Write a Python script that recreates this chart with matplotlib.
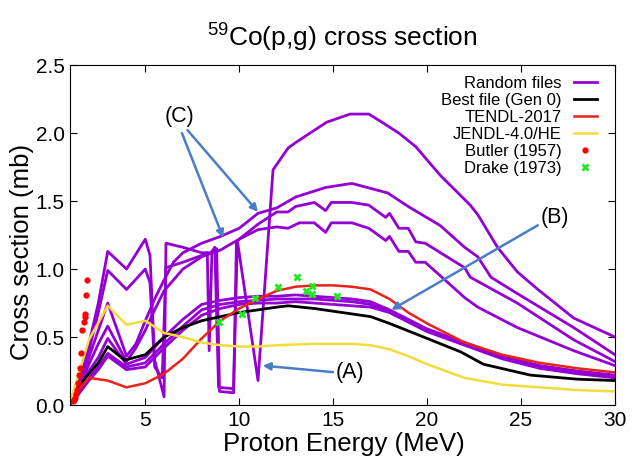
# 59Co(p,g) cross section - random files vs evaluations vs data
import matplotlib
matplotlib.use('Agg')
import matplotlib.pyplot as plt

plt.rcParams['font.family'] = ['Liberation Sans', 'DejaVu Sans']
plt.rcParams['mathtext.default'] = 'regular'

# random files
r1_e = [1, 1.5, 2, 2.5, 3, 4, 5, 5.25, 5.5, 6.0, 6.1, 7, 8, 8.5, 8.7, 8.9, 9.7, 9.9,
        11.0, 11.8, 12.6, 13, 14.65, 15.9, 16.9, 17.6, 18.5, 19.4, 20.7, 22.3, 22.7,
        23.75, 24.8, 25.9, 27.8, 30]
r1_xs = [0.01, 0.2, 0.45, 0.75, 1.13, 1.0, 1.22, 1.1, 0.33, 0.06, 1.19, 1.16, 1.12,
         1.12, 1.16, 0.13, 0.12, 1.21, 0.18, 1.73, 1.89, 1.93, 2.08, 2.14, 2.14, 2.08,
         2.0, 1.90, 1.69, 1.47, 1.40, 1.16, 0.98, 0.85, 0.64, 0.50]

r2_e = [1, 1.5, 2, 2.5, 3, 4, 5, 5.25, 5.5, 5.9, 6.1, 7, 8, 8.3, 8.4, 8.55, 8.8, 8.95,
        9.7, 9.85, 10, 11, 12, 12.6, 13, 14, 14.6, 14.9, 16, 16.9, 17.8, 18, 18.5, 19,
        19.4, 19.9, 22, 22.3, 24.8, 27.8, 30]
r2_xs = [0.01, 0.18, 0.4, 0.68, 0.99, 0.85, 1.0, 0.9, 0.28, 0.2, 1.01, 1.05, 1.1, 1.12,
         0.40, 1.13, 1.15, 0.10, 0.09, 1.19, 1.22, 1.33, 1.42, 1.42, 1.46, 1.49, 1.43,
         1.49, 1.49, 1.47, 1.38, 1.41, 1.30, 1.30, 1.20, 1.19, 1.01, 0.94, 0.75, 0.48, 0.32]

r3_e = [1, 1.5, 2, 2.5, 3, 4, 4.5, 5, 5.5, 6, 6.5, 7, 8, 9, 10, 11, 12, 13, 14.6, 16,
        17.9, 19, 20.7, 22, 22.7, 23.4, 24.8, 27.8, 30]
r3_xs = [0.01, 0.15, 0.35, 0.55, 0.75, 0.36, 0.45, 0.62, 0.78, 0.92, 1.05, 1.12, 1.19,
         1.24, 1.30, 1.41, 1.45, 1.53, 1.60, 1.63, 1.56, 1.46, 1.32, 1.16, 1.09, 0.94,
         0.82, 0.57, 0.37]

r4_e = [1, 1.5, 2, 2.5, 3, 4, 4.5, 5, 5.5, 6, 7, 8, 9, 10, 11, 12, 12.6, 13.2, 14, 14.6,
        14.9, 16, 16.9, 17.8, 18, 18.5, 19, 19.4, 19.9, 22, 22.7, 24.8, 27.8, 30]
r4_xs = [0.01, 0.13, 0.3, 0.45, 0.58, 0.32, 0.42, 0.55, 0.7, 0.84, 1.0, 1.09, 1.14, 1.22,
         1.29, 1.31, 1.30, 1.34, 1.34, 1.27, 1.34, 1.34, 1.30, 1.21, 1.24, 1.13, 1.13,
         1.05, 1.05, 0.79, 0.72, 0.57, 0.40, 0.29]

low_e = [1, 1.5, 2, 2.5, 3, 4, 5, 6, 7, 8, 9, 10, 11, 12, 13, 14, 15, 16, 17, 18, 19,
         20, 22, 24, 26, 28, 30]
r5_xs = [0.01, 0.12, 0.25, 0.35, 0.49, 0.30, 0.35, 0.50, 0.63, 0.74, 0.77, 0.79, 0.80,
         0.80, 0.81, 0.80, 0.79, 0.78, 0.76, 0.70, 0.63, 0.56, 0.46, 0.36, 0.29, 0.25, 0.22]
r6_xs = [0.01, 0.10, 0.20, 0.28, 0.38, 0.28, 0.31, 0.45, 0.58, 0.70, 0.74, 0.76, 0.77,
         0.78, 0.78, 0.78, 0.77, 0.76, 0.74, 0.69, 0.62, 0.55, 0.45, 0.35, 0.28, 0.24, 0.21]
r7_xs = [0.01, 0.09, 0.18, 0.26, 0.36, 0.26, 0.28, 0.42, 0.55, 0.66, 0.71, 0.74, 0.75,
         0.75, 0.76, 0.75, 0.74, 0.73, 0.72, 0.68, 0.61, 0.54, 0.44, 0.34, 0.27, 0.23, 0.20]

# best file, TENDL, JENDL
best_e = [1, 1.8, 2.5, 3, 3.9, 5, 6, 7, 8, 9, 10, 11, 12, 12.6, 14, 15, 17, 18, 20,
          21.8, 23, 25.5, 28, 30]
best_xs = [0.02, 0.2, 0.31, 0.43, 0.33, 0.37, 0.50, 0.57, 0.62, 0.65, 0.68, 0.70, 0.72,
           0.73, 0.71, 0.69, 0.65, 0.60, 0.49, 0.39, 0.30, 0.22, 0.19, 0.18]

tendl_e = [1, 1.5, 2, 3, 4, 5, 6, 7, 8, 9, 10, 11, 12, 13, 14, 15, 16, 17, 18, 19, 20,
           22, 24, 26, 28, 30]
tendl_xs = [0.03, 0.12, 0.20, 0.18, 0.13, 0.16, 0.23, 0.34, 0.49, 0.62, 0.71, 0.78, 0.84,
            0.87, 0.88, 0.88, 0.87, 0.85, 0.78, 0.68, 0.60, 0.46, 0.37, 0.31, 0.27, 0.24]

jendl_e = [1, 2, 3, 4, 5, 6, 7, 8, 9, 10, 11, 12, 14, 15, 16, 17, 18, 19, 20, 22, 24,
           26, 28, 30]
jendl_xs = [0.02, 0.48, 0.73, 0.59, 0.62, 0.53, 0.50, 0.46, 0.44, 0.43, 0.43, 0.44, 0.45,
            0.45, 0.45, 0.44, 0.41, 0.36, 0.30, 0.20, 0.15, 0.13, 0.11, 0.10]

# experimental data
butler_e = [1.15, 1.2, 1.25, 1.3, 1.37, 1.42, 1.48, 1.53, 1.58, 1.63, 1.72, 1.77, 1.8,
            1.85, 1.9]
butler_xs = [0.03, 0.04, 0.05, 0.08, 0.11, 0.16, 0.22, 0.27, 0.38, 0.55, 0.61, 0.67, 0.65,
             0.81, 0.92]
drake_e = [8.9, 10.15, 10.85, 12.05, 13.05, 13.55, 13.9, 13.9, 15.2]
drake_xs = [0.61, 0.67, 0.79, 0.87, 0.94, 0.84, 0.875, 0.82, 0.80]

purple = '#9400d3'
arrow_col = '#4a7cc9'

fig = plt.figure(figsize=(6.32, 4.59), dpi=100)
ax = fig.add_axes([0.111, 0.1176, 0.862, 0.7405])

randoms = [(r1_e, r1_xs), (r2_e, r2_xs), (r3_e, r3_xs), (r4_e, r4_xs),
           (low_e, r5_xs), (low_e, r6_xs), (low_e, r7_xs)]
for i, (e, xs) in enumerate(randoms):
    ax.plot(e, xs, color=purple, lw=2.0, label='Random files' if i == 0 else None)

ax.plot(best_e, best_xs, color='black', lw=2.0, label='Best file (Gen 0)')
ax.plot(tendl_e, tendl_xs, color='#e8231a', lw=1.8, label='TENDL-2017')
ax.plot(jendl_e, jendl_xs, color='#f2dc3c', lw=1.8, label='JENDL-4.0/HE')
ax.plot(butler_e, butler_xs, 'o', color='#ff0000', ms=4.5, mec='none', label='Butler (1957)')
ax.plot(drake_e, drake_xs, 'X', color='#1ee81e', ms=6, mec='none', label='Drake (1973)')

# annotations
arw = dict(arrowstyle='-|>', color=arrow_col, lw=1.8, mutation_scale=11, shrinkA=0, shrinkB=0)
ax.annotate('(C)', xy=(11.0, 1.42), xytext=(6.8, 2.12), fontsize=15.5, ha='center', va='center',
            arrowprops=dict(arw, relpos=(0.7, 0.0)))
ax.annotate('', xy=(9.15, 1.23), xytext=(6.95, 2.0), arrowprops=arw)
ax.annotate('(B)', xy=(18.1, 0.70), xytext=(26.8, 1.38), fontsize=15.5, ha='center', va='center',
            arrowprops=dict(arw, relpos=(0.0, 0.2)))
ax.annotate('(A)', xy=(11.25, 0.29), xytext=(15.9, 0.24), fontsize=15.5, ha='center', va='center',
            arrowprops=dict(arw, relpos=(0.0, 0.5)))

ax.set_xlim(1, 30)
ax.set_ylim(0, 2.5)
ax.set_xticks([5, 10, 15, 20, 25, 30])
ax.set_yticks([0, 0.5, 1.0, 1.5, 2.0, 2.5])
ax.set_yticklabels(['0.0', '0.5', '1.0', '1.5', '2.0', '2.5'])
ax.tick_params(direction='in', top=True, right=True, labelsize=15, length=5, pad=4)
ax.set_xlabel('Proton Energy (MeV)', fontsize=18.5, va='center')
ax.xaxis.set_label_coords(0.503, -0.115)
ax.set_ylabel('Cross section (mb)', fontsize=18.5, va='center')
ax.yaxis.set_label_coords(-0.088, 0.45)
ax.set_title(r'$^{59}$Co(p,g) cross section', fontsize=19, pad=13)

ax.legend(loc='upper right', bbox_to_anchor=(0.967, 0.968), frameon=False, markerfirst=False,
          fontsize=12, handlelength=1.4, labelspacing=0.12, borderaxespad=0, borderpad=0,
          handletextpad=0.7)

plt.savefig('out.png')
